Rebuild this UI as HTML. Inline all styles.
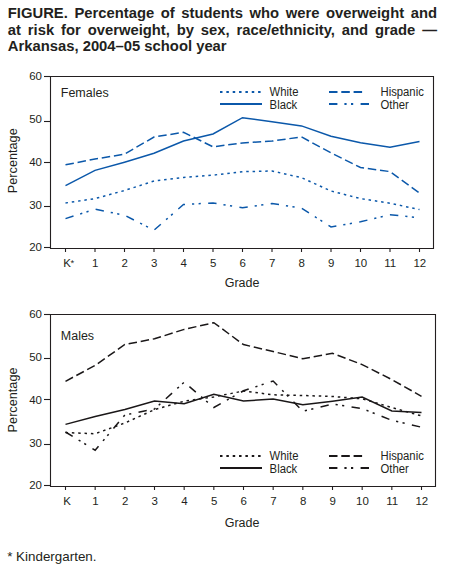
<!DOCTYPE html>
<html><head><meta charset="utf-8">
<style>
html,body{margin:0;padding:0;background:#fff;}
body{width:452px;height:570px;position:relative;overflow:hidden;font-family:"Liberation Sans",sans-serif;color:#231f20;}
.title{position:absolute;left:7.8px;top:4px;width:429.2px;font-weight:bold;font-size:14.8px;line-height:16.4px;color:#231f20;}
.tl{position:absolute;left:0;width:100%;white-space:nowrap;height:16.4px;transform:scale(1,1.001);transform-origin:0 13.3px;}
.j{text-align:justify;text-align-last:justify;white-space:normal;}
svg{position:absolute;left:0;top:0;}
svg text{font-family:"Liberation Sans",sans-serif;fill:#231f20;}
.tk{font-size:11.5px;}
.lab{font-size:12.5px;}
.lg{font-size:11.3px;}
.foot{position:absolute;left:7.2px;top:548.9px;font-size:13.4px;white-space:nowrap;transform:scale(1,1.001);transform-origin:0 12px;}
</style></head><body>
<div class="title"><div class="tl j" style="top:0.6px">FIGURE. Percentage of students who were overweight and</div><div class="tl j" style="top:18.3px">at risk for overweight, by sex, race/ethnicity, and grade &#8212;</div><div class="tl" style="top:33.8px">Arkansas, 2004&#8211;05 school year</div></div>
<svg width="452" height="570" viewBox="0 0 452 570">
<path d="M50.5 76.5 V248.5 H433.5 V76.5 Z" fill="none" stroke="#231f20" stroke-width="1.1"/>
<path d="M44 76.5 H50.5" stroke="#231f20" stroke-width="1.1"/>
<text transform="translate(42.00,80.40) scale(1,1.001)" class="tk" text-anchor="end">60</text>
<path d="M44 121.5 H50.5" stroke="#231f20" stroke-width="1.1"/>
<text transform="translate(42.00,123.40) scale(1,1.001)" class="tk" text-anchor="end">50</text>
<path d="M44 162.5 H50.5" stroke="#231f20" stroke-width="1.1"/>
<text transform="translate(42.00,166.40) scale(1,1.001)" class="tk" text-anchor="end">40</text>
<path d="M44 206.5 H50.5" stroke="#231f20" stroke-width="1.1"/>
<text transform="translate(42.00,209.40) scale(1,1.001)" class="tk" text-anchor="end">30</text>
<path d="M44 247.5 H50.5" stroke="#231f20" stroke-width="1.1"/>
<text transform="translate(42.00,251.40) scale(1,1.001)" class="tk" text-anchor="end">20</text>
<path d="M65.5 248.5 V252.0" stroke="#231f20" stroke-width="1.1"/>
<text transform="translate(67.00,266.90) scale(1,1.001)" class="tk" text-anchor="middle">K</text>
<text transform="translate(70.50,266.40) scale(1,1.05)" class="tk" style="font-size:9.5px">*</text>
<path d="M95.0 248.5 V252.0" stroke="#231f20" stroke-width="1.1"/>
<text transform="translate(95.30,266.90) scale(1,1.001)" class="tk" text-anchor="middle">1</text>
<path d="M124.5 248.5 V252.0" stroke="#231f20" stroke-width="1.1"/>
<text transform="translate(124.80,266.90) scale(1,1.001)" class="tk" text-anchor="middle">2</text>
<path d="M154.0 248.5 V252.0" stroke="#231f20" stroke-width="1.1"/>
<text transform="translate(154.30,266.90) scale(1,1.001)" class="tk" text-anchor="middle">3</text>
<path d="M183.5 248.5 V252.0" stroke="#231f20" stroke-width="1.1"/>
<text transform="translate(183.80,266.90) scale(1,1.001)" class="tk" text-anchor="middle">4</text>
<path d="M213.0 248.5 V252.0" stroke="#231f20" stroke-width="1.1"/>
<text transform="translate(213.30,266.90) scale(1,1.001)" class="tk" text-anchor="middle">5</text>
<path d="M242.5 248.5 V252.0" stroke="#231f20" stroke-width="1.1"/>
<text transform="translate(242.80,266.90) scale(1,1.001)" class="tk" text-anchor="middle">6</text>
<path d="M272.0 248.5 V252.0" stroke="#231f20" stroke-width="1.1"/>
<text transform="translate(272.30,266.90) scale(1,1.001)" class="tk" text-anchor="middle">7</text>
<path d="M301.5 248.5 V252.0" stroke="#231f20" stroke-width="1.1"/>
<text transform="translate(301.80,266.90) scale(1,1.001)" class="tk" text-anchor="middle">8</text>
<path d="M331.0 248.5 V252.0" stroke="#231f20" stroke-width="1.1"/>
<text transform="translate(331.30,266.90) scale(1,1.001)" class="tk" text-anchor="middle">9</text>
<path d="M360.5 248.5 V252.0" stroke="#231f20" stroke-width="1.1"/>
<text transform="translate(360.80,266.90) scale(1,1.001)" class="tk" text-anchor="middle">10</text>
<path d="M390.0 248.5 V252.0" stroke="#231f20" stroke-width="1.1"/>
<text transform="translate(390.30,266.90) scale(1,1.001)" class="tk" text-anchor="middle">11</text>
<path d="M419.5 248.5 V252.0" stroke="#231f20" stroke-width="1.1"/>
<text transform="translate(419.80,266.90) scale(1,1.001)" class="tk" text-anchor="middle">12</text>
<text transform="translate(224.70,286.70) scale(1,1.05)" class="lab">Grade</text>
<text transform="translate(17.00,193.20) rotate(-90) scale(1,1.05)" class="lab" style="font-size:12.7px">Percentage</text>
<text transform="translate(60.80,96.60) scale(1,1.05)" class="lab">Females</text>
<polyline points="65.50,203.00 95.00,198.60 124.50,190.50 154.00,181.00 183.50,177.40 213.00,175.10 242.50,171.70 272.00,171.00 301.50,177.70 331.00,191.00 360.50,198.60 390.00,203.20 419.50,209.60" fill="none" stroke="#0b58aa" stroke-width="1.5" stroke-linejoin="miter" stroke-dasharray="2.5 3.85"/>
<polyline points="65.50,218.60 95.00,209.20 124.50,215.20 154.00,230.20 183.50,204.50 213.00,203.00 242.50,207.80 272.00,203.50 301.50,208.10 331.00,226.90 360.50,221.80 390.00,214.70 419.50,217.90" fill="none" stroke="#0b58aa" stroke-width="1.5" stroke-linejoin="miter" stroke-dasharray="8.4 7 2.2 4.4 2.2 7.4"/>
<polyline points="65.50,164.80 95.00,159.00 124.50,154.20 154.00,137.00 183.50,132.30 213.00,146.80 242.50,142.90 272.00,141.10 301.50,136.90 331.00,152.90 360.50,167.50 390.00,171.60 419.50,193.00" fill="none" stroke="#0b58aa" stroke-width="1.5" stroke-linejoin="miter" stroke-dasharray="8.5 3.8"/>
<polyline points="65.50,185.60 95.00,170.40 124.50,162.20 154.00,153.30 183.50,141.00 213.00,134.00 242.50,117.70 272.00,121.70 301.50,125.90 331.00,136.30 360.50,142.70 390.00,147.30 419.50,141.50" fill="none" stroke="#0b58aa" stroke-width="1.5" stroke-linejoin="miter" />
<path d="M220 92 H262" stroke="#0b58aa" stroke-width="2" stroke-dasharray="2.5 3.85"/>
<path d="M220 104 H262" stroke="#0b58aa" stroke-width="2"/>
<path d="M329 92 H364" stroke="#0b58aa" stroke-width="2" stroke-dasharray="8.5 3.8"/>
<path d="M329 104 H369" stroke="#0b58aa" stroke-width="2" stroke-dasharray="8.4 7 2.2 4.4 2.2 7.4"/>
<text transform="translate(269.60,96.00) scale(1,1.05)" class="lg">White</text>
<text transform="translate(269.60,108.80) scale(1,1.05)" class="lg">Black</text>
<text transform="translate(380.50,96.00) scale(1,1.05)" class="lg">Hispanic</text>
<text transform="translate(380.50,108.80) scale(1,1.05)" class="lg">Other</text>
<path d="M50.5 314.5 V486.5 H435.5 V314.5 Z" fill="none" stroke="#231f20" stroke-width="1.1"/>
<path d="M44 314.5 H50.5" stroke="#231f20" stroke-width="1.1"/>
<text transform="translate(42.00,318.40) scale(1,1.001)" class="tk" text-anchor="end">60</text>
<path d="M44 358.5 H50.5" stroke="#231f20" stroke-width="1.1"/>
<text transform="translate(42.00,361.40) scale(1,1.001)" class="tk" text-anchor="end">50</text>
<path d="M44 399.5 H50.5" stroke="#231f20" stroke-width="1.1"/>
<text transform="translate(42.00,404.40) scale(1,1.001)" class="tk" text-anchor="end">40</text>
<path d="M44 444.5 H50.5" stroke="#231f20" stroke-width="1.1"/>
<text transform="translate(42.00,447.40) scale(1,1.001)" class="tk" text-anchor="end">30</text>
<path d="M44 485.5 H50.5" stroke="#231f20" stroke-width="1.1"/>
<text transform="translate(42.00,488.90) scale(1,1.001)" class="tk" text-anchor="end">20</text>
<path d="M65.5 486.5 V490.0" stroke="#231f20" stroke-width="1.1"/>
<text transform="translate(67.00,504.80) scale(1,1.001)" class="tk" text-anchor="middle">K</text>
<path d="M95.167 486.5 V490.0" stroke="#231f20" stroke-width="1.1"/>
<text transform="translate(95.47,504.80) scale(1,1.001)" class="tk" text-anchor="middle">1</text>
<path d="M124.834 486.5 V490.0" stroke="#231f20" stroke-width="1.1"/>
<text transform="translate(125.13,504.80) scale(1,1.001)" class="tk" text-anchor="middle">2</text>
<path d="M154.501 486.5 V490.0" stroke="#231f20" stroke-width="1.1"/>
<text transform="translate(154.80,504.80) scale(1,1.001)" class="tk" text-anchor="middle">3</text>
<path d="M184.168 486.5 V490.0" stroke="#231f20" stroke-width="1.1"/>
<text transform="translate(184.47,504.80) scale(1,1.001)" class="tk" text-anchor="middle">4</text>
<path d="M213.835 486.5 V490.0" stroke="#231f20" stroke-width="1.1"/>
<text transform="translate(214.14,504.80) scale(1,1.001)" class="tk" text-anchor="middle">5</text>
<path d="M243.502 486.5 V490.0" stroke="#231f20" stroke-width="1.1"/>
<text transform="translate(243.80,504.80) scale(1,1.001)" class="tk" text-anchor="middle">6</text>
<path d="M273.169 486.5 V490.0" stroke="#231f20" stroke-width="1.1"/>
<text transform="translate(273.47,504.80) scale(1,1.001)" class="tk" text-anchor="middle">7</text>
<path d="M302.836 486.5 V490.0" stroke="#231f20" stroke-width="1.1"/>
<text transform="translate(303.14,504.80) scale(1,1.001)" class="tk" text-anchor="middle">8</text>
<path d="M332.50300000000004 486.5 V490.0" stroke="#231f20" stroke-width="1.1"/>
<text transform="translate(332.80,504.80) scale(1,1.001)" class="tk" text-anchor="middle">9</text>
<path d="M362.17 486.5 V490.0" stroke="#231f20" stroke-width="1.1"/>
<text transform="translate(362.47,504.80) scale(1,1.001)" class="tk" text-anchor="middle">10</text>
<path d="M391.837 486.5 V490.0" stroke="#231f20" stroke-width="1.1"/>
<text transform="translate(392.14,504.80) scale(1,1.001)" class="tk" text-anchor="middle">11</text>
<path d="M421.504 486.5 V490.0" stroke="#231f20" stroke-width="1.1"/>
<text transform="translate(421.80,504.80) scale(1,1.001)" class="tk" text-anchor="middle">12</text>
<text transform="translate(224.70,526.80) scale(1,1.05)" class="lab">Grade</text>
<text transform="translate(17.00,432.40) rotate(-90) scale(1,1.05)" class="lab" style="font-size:12.7px">Percentage</text>
<text transform="translate(60.80,339.50) scale(1,1.05)" class="lab">Males</text>
<polyline points="65.50,432.60 95.17,433.70 124.83,423.00 154.50,409.60 184.17,401.20 213.84,396.90 243.50,391.00 273.17,394.80 302.84,395.50 332.50,396.50 362.17,398.80 391.84,407.50 421.50,415.90" fill="none" stroke="#1a1718" stroke-width="1.5" stroke-linejoin="miter" stroke-dasharray="2.5 3.85"/>
<polyline points="65.50,432.00 95.17,450.20 124.83,415.00 154.50,409.00 184.17,382.20 213.84,407.50 243.50,390.80 273.17,381.00 302.84,411.30 332.50,404.00 362.17,408.60 391.84,420.30 421.50,427.20" fill="none" stroke="#1a1718" stroke-width="1.5" stroke-linejoin="miter" stroke-dasharray="8.4 7 2.2 4.4 2.2 7.4"/>
<polyline points="65.50,381.30 95.17,365.40 124.83,344.50 154.50,338.80 184.17,329.40 213.84,322.70 243.50,344.60 273.17,351.50 302.84,358.80 332.50,353.30 362.17,364.60 391.84,379.60 421.50,396.30" fill="none" stroke="#1a1718" stroke-width="1.5" stroke-linejoin="miter" stroke-dasharray="8.5 3.8"/>
<polyline points="65.50,424.40 95.17,416.50 124.83,409.50 154.50,401.00 184.17,403.80 213.84,394.30 243.50,400.90 273.17,399.10 302.84,404.80 332.50,401.20 362.17,397.00 391.84,410.90 421.50,412.50" fill="none" stroke="#1a1718" stroke-width="1.5" stroke-linejoin="miter" />
<path d="M220 456 H262" stroke="#1a1718" stroke-width="2" stroke-dasharray="2.5 3.85"/>
<path d="M220 468 H262" stroke="#1a1718" stroke-width="2"/>
<path d="M329 456 H364" stroke="#1a1718" stroke-width="2" stroke-dasharray="8.5 3.8"/>
<path d="M329 468 H369" stroke="#1a1718" stroke-width="2" stroke-dasharray="8.4 7 2.2 4.4 2.2 7.4"/>
<text transform="translate(269.60,460.00) scale(1,1.05)" class="lg">White</text>
<text transform="translate(269.60,472.80) scale(1,1.05)" class="lg">Black</text>
<text transform="translate(380.50,460.00) scale(1,1.05)" class="lg">Hispanic</text>
<text transform="translate(380.50,472.80) scale(1,1.05)" class="lg">Other</text>
</svg>
<div class="foot">* Kindergarten.</div>
</body></html>
